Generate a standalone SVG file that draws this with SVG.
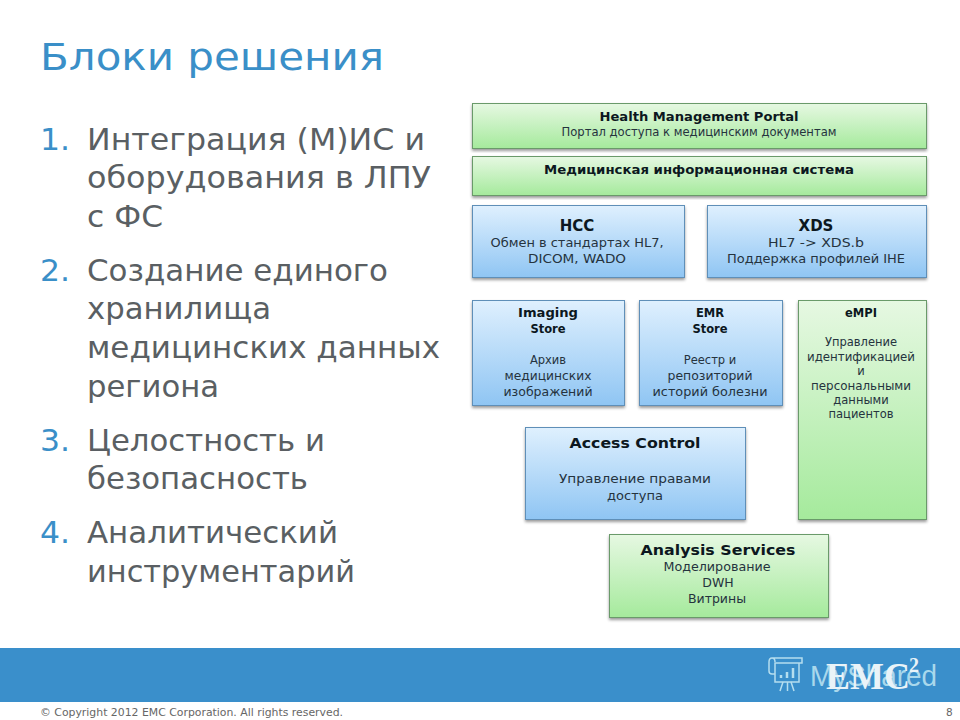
<svg xmlns="http://www.w3.org/2000/svg" width="960" height="720" viewBox="0 0 960 720">
<defs>
<linearGradient id="gg" x1="0" y1="0" x2="0" y2="1"><stop offset="0" stop-color="#e6f8e2"/><stop offset="1" stop-color="#a5ea9c"/></linearGradient>
<linearGradient id="bg" x1="0" y1="0" x2="0" y2="1"><stop offset="0" stop-color="#dff0fe"/><stop offset="1" stop-color="#8fc5f3"/></linearGradient>
<filter id="sh" x="-5%" y="-5%" width="110%" height="115%"><feDropShadow dx="0" dy="2" stdDeviation="1.5" flood-color="#000" flood-opacity="0.4"/></filter>
</defs>
<style>
text{font-family:"DejaVu Sans","Liberation Sans",sans-serif}
.g{fill:url(#gg);stroke:#6b9a6b;stroke-width:1;filter:url(#sh)}
.b{fill:url(#bg);stroke:#5f8fb8;stroke-width:1;filter:url(#sh)}
.c{text-anchor:middle;fill:#25333e}
.h{font-weight:bold;fill:#0c1720}
.l{font-size:31px;fill:#5a5f63}
.n{font-size:31px;fill:#3a8fc8}
</style>
<rect width="960" height="720" fill="#fff"/>
<text x="40" y="70" font-size="38" fill="#3a8fc8" textLength="344" lengthAdjust="spacingAndGlyphs">Блоки решения</text>
<g id="list">
<text class="n" x="40" y="150" textLength="30" lengthAdjust="spacingAndGlyphs">1.</text>
<text class="l" x="87" y="150" textLength="338" lengthAdjust="spacingAndGlyphs">Интеграция (М)ИС и</text>
<text class="l" x="87" y="188" textLength="344" lengthAdjust="spacingAndGlyphs">оборудования в ЛПУ</text>
<text class="l" x="87" y="227" textLength="76" lengthAdjust="spacingAndGlyphs">с ФС</text>
<text class="n" x="40" y="281" textLength="30" lengthAdjust="spacingAndGlyphs">2.</text>
<text class="l" x="87" y="281" textLength="301" lengthAdjust="spacingAndGlyphs">Создание единого</text>
<text class="l" x="87" y="319" textLength="184" lengthAdjust="spacingAndGlyphs">хранилища</text>
<text class="l" x="87" y="358" textLength="353" lengthAdjust="spacingAndGlyphs">медицинских данных</text>
<text class="l" x="87" y="397" textLength="132" lengthAdjust="spacingAndGlyphs">региона</text>
<text class="n" x="40" y="451" textLength="30" lengthAdjust="spacingAndGlyphs">3.</text>
<text class="l" x="87" y="451" textLength="238" lengthAdjust="spacingAndGlyphs">Целостность и</text>
<text class="l" x="87" y="489" textLength="221" lengthAdjust="spacingAndGlyphs">безопасность</text>
<text class="n" x="40" y="543" textLength="30" lengthAdjust="spacingAndGlyphs">4.</text>
<text class="l" x="87" y="543" textLength="251" lengthAdjust="spacingAndGlyphs">Аналитический</text>
<text class="l" x="87" y="582" textLength="268" lengthAdjust="spacingAndGlyphs">инструментарий</text>
</g>
<g id="portal"><rect class="g" x="472.500" y="103.500" width="454" height="45"/>
<text class="c h" x="699" y="121" font-size="12" textLength="199" lengthAdjust="spacingAndGlyphs">Health Management Portal</text>
<text class="c" x="699" y="136" font-size="11.500" textLength="275" lengthAdjust="spacingAndGlyphs">Портал доступа к медицинским документам</text></g>
<g id="mis"><rect class="g" x="472.500" y="156.500" width="454" height="39"/>
<text class="c h" x="699" y="174" font-size="11.500" textLength="310" lengthAdjust="spacingAndGlyphs">Медицинская информационная система</text></g>
<g id="hcc"><rect class="b" x="472.500" y="205.500" width="212" height="72"/>
<text class="c h" x="577" y="231" font-size="15">HCC</text>
<text class="c" x="577" y="247" font-size="11.500" textLength="173" lengthAdjust="spacingAndGlyphs">Обмен в стандартах HL7,</text>
<text class="c" x="577" y="263" font-size="11.500" textLength="98" lengthAdjust="spacingAndGlyphs">DICOM, WADO</text></g>
<g id="xds"><rect class="b" x="707.500" y="205.500" width="219" height="72"/>
<text class="c h" x="816" y="231" font-size="15">XDS</text>
<text class="c" x="816" y="247" font-size="11.500" textLength="96" lengthAdjust="spacingAndGlyphs">HL7 -&gt; XDS.b</text>
<text class="c" x="816" y="263" font-size="11.500" textLength="178" lengthAdjust="spacingAndGlyphs">Поддержка профилей IHE</text></g>
<g id="imaging"><rect class="b" x="472.500" y="300.500" width="152" height="105"/>
<text class="c h" x="548" y="317" font-size="11.500" textLength="60" lengthAdjust="spacingAndGlyphs">Imaging</text>
<text class="c h" x="548" y="333" font-size="11.500">Store</text>
<text class="c" x="548" y="364" font-size="11.500">Архив</text>
<text class="c" x="548" y="380" font-size="11.500" textLength="87" lengthAdjust="spacingAndGlyphs">медицинских</text>
<text class="c" x="548" y="396" font-size="11.500" textLength="89" lengthAdjust="spacingAndGlyphs">изображений</text></g>
<g id="emr"><rect class="b" x="639.500" y="300.500" width="143" height="105"/>
<text class="c h" x="710" y="317" font-size="11.500">EMR</text>
<text class="c h" x="710" y="333" font-size="11.500">Store</text>
<text class="c" x="710" y="364" font-size="11.500">Реестр и</text>
<text class="c" x="710" y="380" font-size="11.500" textLength="85" lengthAdjust="spacingAndGlyphs">репозиторий</text>
<text class="c" x="710" y="396" font-size="11.500" textLength="115" lengthAdjust="spacingAndGlyphs">историй болезни</text></g>
<g id="empi"><rect class="g" x="798.500" y="300.500" width="128" height="219"/>
<text class="c h" x="861" y="317" font-size="11.500">eMPI</text>
<text class="c" x="861" y="346" font-size="11.500">Управление</text>
<text class="c" x="861" y="361" font-size="11.500" textLength="108" lengthAdjust="spacingAndGlyphs">идентификацией</text>
<text class="c" x="861" y="375" font-size="11.500">и</text>
<text class="c" x="861" y="390" font-size="11.500" textLength="100" lengthAdjust="spacingAndGlyphs">персональными</text>
<text class="c" x="861" y="404" font-size="11.500">данными</text>
<text class="c" x="861" y="418" font-size="11.500">пациентов</text></g>
<g id="access"><rect class="b" x="525.500" y="427.500" width="220" height="92"/>
<text class="c h" x="635" y="448" font-size="14.500" textLength="131" lengthAdjust="spacingAndGlyphs">Access Control</text>
<text class="c" x="635" y="483" font-size="13" textLength="152" lengthAdjust="spacingAndGlyphs">Управление правами</text>
<text class="c" x="635" y="500" font-size="13">доступа</text></g>
<g id="analysis"><rect class="g" x="609.500" y="534.500" width="219" height="83"/>
<text class="c h" x="718" y="555" font-size="14.500" textLength="155" lengthAdjust="spacingAndGlyphs">Analysis Services</text>
<text class="c" x="717" y="571" font-size="12.500" textLength="107" lengthAdjust="spacingAndGlyphs">Моделирование</text>
<text class="c" x="718" y="587" font-size="12.500">DWH</text>
<text class="c" x="717" y="603" font-size="12.500">Витрины</text></g>
<g id="footer">
<rect x="0" y="648" width="960" height="54" fill="#3a8fcb"/>
<g fill="none" stroke="#b5deef" stroke-width="1.500">
<path d="M772 658h30v5h-27v19h24v-19M772 658q-3 0-3 4v9q0 3 3 3h3M772 658q3 0 3 4"/>
<path d="M783 682l-3 9M791 682l3 9M787.500 682v9"/>
<path d="M781 678v-3M787 678v-6M793 678v-10" stroke-width="2.500"/>
</g>
<text x="810" y="686" font-size="29" fill="#a9d8ec" textLength="127" lengthAdjust="spacingAndGlyphs" style="font-family:'Liberation Sans',sans-serif">MyShared</text>
<text x="826" y="689" font-size="37" font-weight="bold" fill="#e9f3f8" style="font-family:'Liberation Serif',serif" textLength="84" lengthAdjust="spacingAndGlyphs">EMC</text>
<text x="909" y="672" font-size="20" font-weight="bold" fill="#e9f3f8" style="font-family:'Liberation Serif',serif">2</text>
<text x="40" y="716" font-size="10.500" fill="#666" textLength="303" lengthAdjust="spacingAndGlyphs">© Copyright 2012 EMC Corporation. All rights reserved.</text>
<text x="946" y="716" font-size="10.500" fill="#666">8</text>
</g>
</svg>
